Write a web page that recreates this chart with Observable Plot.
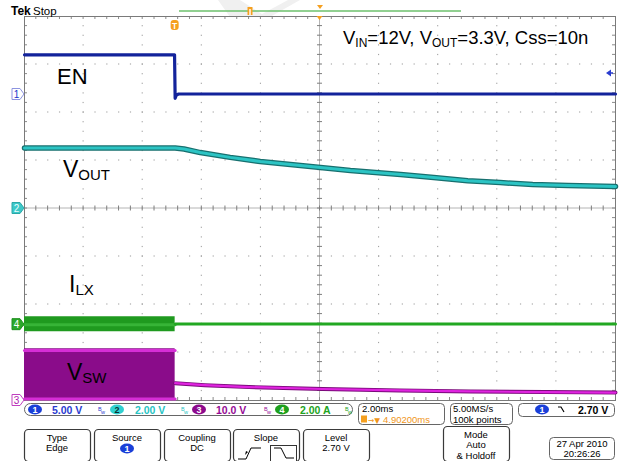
<!DOCTYPE html>
<html><head><meta charset="utf-8">
<script src="https://cdn.jsdelivr.net/npm/d3@7"></script>
<script src="https://cdn.jsdelivr.net/npm/@observablehq/plot@0.6"></script>
<style>
html,body{margin:0;padding:0;background:#fff;}
#chart{position:relative;width:621px;height:461px;overflow:hidden;}
</style></head><body><div id="chart"></div>
<script>
// ---- time base (ms relative to trigger), 2.00 ms/div, 10 divisions
const timeWindow = [-5.098, 14.902];
const msPerDiv = 2;
// ---- channel settings: scale per division and screen position (div)
const ch1 = {name: "1", scale: 5,  offset: 2.375, color: "#13239b"};
const ch2 = {name: "2", scale: 2,  offset: 0,     color: "#22b8b8"};
const ch3 = {name: "3", scale: 10, offset: -4,    color: "#8a0a8a"};
const ch4 = {name: "4", scale: 2,  offset: -2.42, color: "#22a022"};

// ---- EN (ch1, volts)
const enTime  = [-5.098, -0.02, 0.0, 0.04, 0.12, 14.902];
const enVolts = [4.13, 4.13, -0.4, -0.05, 0.05, 0.05];
// ---- VOUT (ch2, volts)
const voutTime  = [-5.098, 0, 0.3, 0.85, 1.86, 2.88, 3.9, 4.92, 5.93, 7.63, 8.75, 9.9, 11.0, 12.1, 13.3, 14.902];
const voutVolts = [2.52, 2.52, 2.48, 2.33, 2.13, 1.96, 1.83, 1.71, 1.58, 1.42, 1.29, 1.16, 1.08, 1.0, 0.96, 0.92];
// ---- ILX (ch4, amps): switching band before, flat after
const ilxBandTime = [-5.098, 0];
const ilxBandLow  = [-0.3, -0.3];
const ilxBandHigh = [0.33, 0.33];
const ilxTime = [0, 14.902];
const ilxAmps = [0.03, 0.03];
// ---- VSW (ch3, volts): switching band before, decaying after
const vswBandTime = [-5.098, 0];
const vswBandLow  = [0, 0];
const vswBandHigh = [10.8, 10.8];
const vswTopEdge  = [10.4, 10.4];
const vswBotEdge  = [0.3, 0.3];
const vswTime  = [0, 1, 2.5, 5, 7.6, 10, 12.5, 14.902];
const vswVolts = [3.6, 3.2, 2.8, 2.4, 2.1, 1.9, 1.75, 1.65];

const rows = (ts, vs, ch) => ts.map((t, i) => ({t, y: ch.offset + vs[i] / ch.scale}));
const band = (ts, lo, hi, ch) => ts.map((t, i) => ({t, y1: ch.offset + lo[i] / ch.scale, y2: ch.offset + hi[i] / ch.scale}));

const chart = Plot.plot({
  width: 621, height: 461,
  marginLeft: 24, marginRight: 6, marginTop: 16, marginBottom: 61,
  x: {domain: timeWindow, axis: null},
  y: {domain: [-4, 4], axis: null},
  style: {background: "#fff", overflow: "visible"},
  marks: [
    Plot.frame({stroke: "#7a7a7a", strokeWidth: 1}),
    // EN
    Plot.line(rows(enTime, enVolts, ch1), {x: "t", y: "y", stroke: ch1.color, strokeWidth: 3.2}),
    // VOUT
    Plot.line(rows(voutTime, voutVolts, ch2), {x: "t", y: "y", stroke: "#17706f", strokeWidth: 5.5}),
    Plot.line(rows(voutTime, voutVolts, ch2), {x: "t", y: "y", stroke: "#2cc4c4", strokeWidth: 3}),
    // ILX
    Plot.areaY(band(ilxBandTime, ilxBandLow, ilxBandHigh, ch4), {x: "t", y1: "y1", y2: "y2", fill: "#1f9a1f"}),
    Plot.line(rows(ilxBandTime, [0, 0], ch4), {x: "t", y: "y", stroke: "#37b437", strokeWidth: 3}),
    Plot.line(rows(ilxTime, ilxAmps, ch4), {x: "t", y: "y", stroke: "#22a822", strokeWidth: 3}),
    // VSW
    Plot.areaY(band(vswBandTime, vswBandLow, vswBandHigh, ch3), {x: "t", y1: "y1", y2: "y2", fill: "#8a0c8a"}),
    Plot.line(rows(vswBandTime, vswTopEdge, ch3), {x: "t", y: "y", stroke: "#d62ed6", strokeWidth: 3}),
    Plot.line(rows(vswBandTime, vswBotEdge, ch3), {x: "t", y: "y", stroke: "#d62ed6", strokeWidth: 3}),
    Plot.line(rows(vswTime, vswVolts, ch3), {x: "t", y: "y", stroke: "#7a0a7a", strokeWidth: 4}),
    Plot.line(rows(vswTime, vswVolts, ch3), {x: "t", y: "y", stroke: "#e024e0", strokeWidth: 2.2})
  ]
});
document.getElementById("chart").appendChild(chart);

const svg = d3.select(chart);
const X = chart.scale("x"), Y = chart.scale("y");
const px = t => X.apply(t), py = v => Y.apply(v);
const x0 = px(timeWindow[0]), x1 = px(timeWindow[1]), y0 = py(4), y1 = py(-4);
const xc = px(timeWindow[0] + 5 * msPerDiv), yc = py(0);

// ---- graticule behind traces
const grid = svg.insert("g", ":first-child");
// faint watermark shapes of the screenshot background
grid.append("path").attr("d", "M218,0 L240,0 L262,14 L288,0 L300,0 L270,17 L230,17 Z").attr("fill", "#f0f0f0");
const minorX = d3.range(0, 50 + 1).map(k => timeWindow[0] + k * msPerDiv / 5);
const minorY = d3.range(0, 40 + 1).map(k => -4 + k / 5);
for (let i = 1; i < 10; i++) {
  if (i === 5) continue;
  const gx = px(timeWindow[0] + i * msPerDiv);
  minorY.slice(1, -1).forEach(v => grid.append("rect").attr("x", gx - 0.5).attr("y", py(v) - 0.5).attr("width", 1).attr("height", 1.2).attr("fill", "#9a9a9a"));
}
for (let j = -3; j <= 3; j++) {
  if (j === 0) continue;
  const gy = py(j);
  minorX.slice(1, -1).forEach(t => grid.append("rect").attr("x", px(t) - 0.5).attr("y", gy - 0.5).attr("width", 1.2).attr("height", 1).attr("fill", "#9a9a9a"));
}
grid.append("line").attr("x1", x0).attr("x2", x1).attr("y1", yc).attr("y2", yc).attr("stroke", "#b4b4b4");
grid.append("line").attr("x1", xc).attr("x2", xc).attr("y1", y0).attr("y2", y1).attr("stroke", "#b4b4b4");
minorX.slice(1, -1).forEach(t => {
  const gx = px(t);
  grid.append("line").attr("x1", gx).attr("x2", gx).attr("y1", yc - 2.5).attr("y2", yc + 2.5).attr("stroke", "#7d7d7d");
  grid.append("line").attr("x1", gx).attr("x2", gx).attr("y1", y0).attr("y2", y0 + 3).attr("stroke", "#8a8a8a");
  grid.append("line").attr("x1", gx).attr("x2", gx).attr("y1", y1 - 3).attr("y2", y1).attr("stroke", "#8a8a8a");
});
minorY.slice(1, -1).forEach(v => {
  const gy = py(v);
  grid.append("line").attr("x1", xc - 2.5).attr("x2", xc + 2.5).attr("y1", gy).attr("y2", gy).attr("stroke", "#7d7d7d");
  grid.append("line").attr("x1", x0).attr("x2", x0 + 3).attr("y1", gy).attr("y2", gy).attr("stroke", "#8a8a8a");
  grid.append("line").attr("x1", x1 - 3).attr("x2", x1).attr("y1", gy).attr("y2", gy).attr("stroke", "#8a8a8a");
});

const sans = "'Liberation Sans', Arial, sans-serif";
const ui = "'Liberation Sans', Arial, sans-serif";
const txt = (g, x, y, s, o = {}) => g.append("text").attr("x", x).attr("y", y)
  .attr("font-family", o.family || ui).attr("font-size", o.size || 10)
  .attr("font-weight", o.weight || "normal").attr("fill", o.fill || "#000")
  .attr("text-anchor", o.anchor || "start").text(s);

// ---- trace labels with subscripts
const lab = svg.append("g").attr("font-family", sans).attr("fill", "#000").attr("text-anchor", "start");
function subLabel(x, y, main, sub, size, subSize) {
  const t = lab.append("text").attr("x", x).attr("y", y).attr("font-size", size).attr("font-family", sans).attr("text-anchor", "start");
  t.append("tspan").text(main);
  if (sub) t.append("tspan").attr("font-size", subSize).attr("dy", 3).text(sub);
  return t;
}
subLabel(57, 84, "EN", null, 22);
subLabel(63, 177, "V", "OUT", 23, 15);
subLabel(69, 292, "I", "LX", 23, 15);
subLabel(67, 380, "V", "SW", 23, 15);

const title = lab.append("text").attr("x", 343).attr("y", 44).attr("font-size", 18.5).attr("font-family", sans).attr("text-anchor", "start");
title.append("tspan").text("V");
title.append("tspan").attr("font-size", 12).attr("dy", 3).text("IN");
title.append("tspan").attr("dy", -3).text("=12V, V");
title.append("tspan").attr("font-size", 12).attr("dy", 3).text("OUT");
title.append("tspan").attr("dy", -3).text("=3.3V, Css=10n");

// ---- channel position tags on left
function tag(ch, fill, stroke, textFill) {
  const gy = py(ch.offset);
  svg.append("path").attr("d", `M12,${gy - 5.5} L20,${gy - 5.5} L24,${gy} L20,${gy + 5.5} L12,${gy + 5.5} Z`)
    .attr("fill", fill).attr("stroke", stroke).attr("stroke-width", 1);
  txt(svg, 16.5, gy + 4, ch.name, {size: 10, fill: textFill, anchor: "middle"});
}
tag(ch1, "#ffffff", "#8d94e0", "#2233cc");
tag(ch2, "#3cc8c8", "#2aa8a8", "#e8ffff");
tag(ch4, "#2aa82a", "#1f8f1f", "#ffffff");
tag(ch3, "#ffffff", "#c040c0", "#b020b0");

// ---- header
txt(svg, 11, 15, "Tek", {size: 12, weight: "bold", family: sans});
txt(svg, 33, 15, "Stop", {size: 11.5, family: sans});
svg.append("line").attr("x1", 179).attr("x2", 461).attr("y1", 11).attr("y2", 11).attr("stroke", "#6cc06c").attr("stroke-width", 1.3);
svg.append("rect").attr("x", 247.5).attr("y", 7).attr("width", 5).attr("height", 8).attr("fill", "#f5a020");
svg.append("rect").attr("x", 249.3).attr("y", 9).attr("width", 1.4).attr("height", 6).attr("fill", "#fff");
svg.append("path").attr("d", "M317,5 L323,5 L320,9 Z").attr("fill", "#f5a020");
svg.append("path").attr("d", `M${xc - 3},${y0} L${xc + 3},${y0} L${xc},${y0 + 4} Z`).attr("fill", "#f5a020");
// trigger position marker
const tx = px(0);
svg.append("rect").attr("x", tx - 4).attr("y", 20).attr("width", 8).attr("height", 10).attr("rx", 3).attr("fill", "#f5a020");
txt(svg, tx, 28.5, "T", {size: 8.5, weight: "bold", fill: "#fff", anchor: "middle"});
// trigger level arrow on right
svg.append("path").attr("d", "M606,73 L611,69.5 L611,76.5 Z").attr("fill", "#2a3ccf");
svg.append("line").attr("x1", 610).attr("x2", 613).attr("y1", 73).attr("y2", 73).attr("stroke", "#2a3ccf").attr("stroke-width", 1.5);

// ---- bottom readouts
const bot = svg.append("g");
bot.append("rect").attr("x", 24.5).attr("y", 403.5).attr("width", 328).attr("height", 12).attr("rx", 6).attr("fill", "#fff").attr("stroke", "#666");
const readouts = [
  {cx: 35, col: "#1a3fd8", num: "1", val: "5.00 V", vx: 52, vcol: "#2a3ccf", icx: 98},
  {cx: 117, col: "#30d0d0", num: "2", val: "2.00 V", vx: 135, vcol: "#28c4c4", icx: 181},
  {cx: 199, col: "#8d0a8d", num: "3", val: "10.0 V", vx: 216, vcol: "#950a95", icx: 264},
  {cx: 282, col: "#1fa01f", num: "4", val: "2.00 A", vx: 300, vcol: "#22a422", icx: 345}
];
readouts.forEach(r => {
  bot.append("ellipse").attr("cx", r.cx).attr("cy", 409.5).attr("rx", 7).attr("ry", 5).attr("fill", r.col);
  txt(bot, r.cx, 413, r.num, {size: 9, weight: "bold", fill: r.num === "2" ? "#073030" : "#fff", anchor: "middle"});
  txt(bot, r.vx, 413.5, r.val, {size: 10.5, weight: "bold", fill: r.vcol});
  txt(bot, r.icx, 411, "B", {size: 5.5, fill: r.vcol});
  txt(bot, r.icx + 3, 414, "w", {size: 5.5, fill: r.vcol});
});
bot.append("rect").attr("x", 358.5).attr("y", 403.5).attr("width", 86).attr("height", 21).attr("rx", 4).attr("fill", "#fff").attr("stroke", "#666");
txt(bot, 362, 412, "2.00ms", {size: 9.5});
bot.append("rect").attr("x", 361).attr("y", 415.5).attr("width", 6).attr("height", 7).attr("fill", "#f5a020");
txt(bot, 368, 422.5, "→▼", {size: 7.5, fill: "#f0961a", family: "'DejaVu Sans', sans-serif"});
txt(bot, 383, 422.5, "4.90200ms", {size: 9.5, fill: "#f0961a"});
bot.append("rect").attr("x", 450.5).attr("y", 403.5).attr("width", 62).attr("height", 21).attr("rx", 4).attr("fill", "#fff").attr("stroke", "#666");
txt(bot, 453, 412, "5.00MS/s", {size: 9.5});
txt(bot, 453, 422.5, "100k points", {size: 9.5});
bot.append("rect").attr("x", 518.5).attr("y", 403.5).attr("width", 96).attr("height", 13).attr("rx", 4).attr("fill", "#fff").attr("stroke", "#666");
bot.append("ellipse").attr("cx", 542).attr("cy", 409.5).attr("rx", 7).attr("ry", 5).attr("fill", "#1a3fd8");
txt(bot, 542, 413, "1", {size: 9, weight: "bold", fill: "#fff", anchor: "middle"});
bot.append("path").attr("d", "M558,407 L561,407 L564,412").attr("fill", "none").attr("stroke", "#000").attr("stroke-width", 1.2);
txt(bot, 578, 413.5, "2.70 V", {size: 10.5, weight: "bold"});

// ---- soft-key buttons
function button(x, w, lines, y = 429.5, h = 32, gap = 10.5) {
  bot.append("rect").attr("x", x + 0.5).attr("y", y).attr("width", w).attr("height", h).attr("rx", 4).attr("fill", "#fff").attr("stroke", "#3a3a3a").attr("stroke-width", 1.2);
  lines.forEach((s, i) => txt(bot, x + w / 2, y + 11 + i * gap, s, {size: 9.5, anchor: "middle"}));
}
button(24, 66, ["Type", "Edge"]);
button(94, 66, ["Source"]);
bot.append("ellipse").attr("cx", 127).attr("cy", 448.5).attr("rx", 7).attr("ry", 5).attr("fill", "#1a3fd8");
txt(bot, 127, 452, "1", {size: 9, weight: "bold", fill: "#fff", anchor: "middle"});
button(164, 66, ["Coupling", "DC"]);
button(233, 66, ["Slope"]);
bot.append("path").attr("d", "M238,459 L246,459 L251,448 L261,448").attr("fill", "none").attr("stroke", "#000").attr("stroke-width", 1);
bot.append("path").attr("d", "M245,455 L248,452 L246,451 Z").attr("fill", "#000");
bot.append("rect").attr("x", 270.5).attr("y", 445.5).attr("width", 26).attr("height", 16).attr("fill", "#fff").attr("stroke", "#333");
bot.append("path").attr("d", "M274,448 L281,448 L286,458 L294,458").attr("fill", "none").attr("stroke", "#000").attr("stroke-width", 1);
button(303, 66, ["Level", "2.70 V"]);
button(443, 66, ["Mode", "Auto", "& Holdoff"], 426.5, 35, 10.6);
bot.append("rect").attr("x", 549.5).attr("y", 437.5).attr("width", 65).attr("height", 22).attr("rx", 4).attr("fill", "#fff").attr("stroke", "#666");
txt(bot, 582, 446.5, "27 Apr 2010", {size: 9.5, anchor: "middle"});
txt(bot, 582, 457, "20:26:26", {size: 9.5, anchor: "middle"});
</script></body></html>
